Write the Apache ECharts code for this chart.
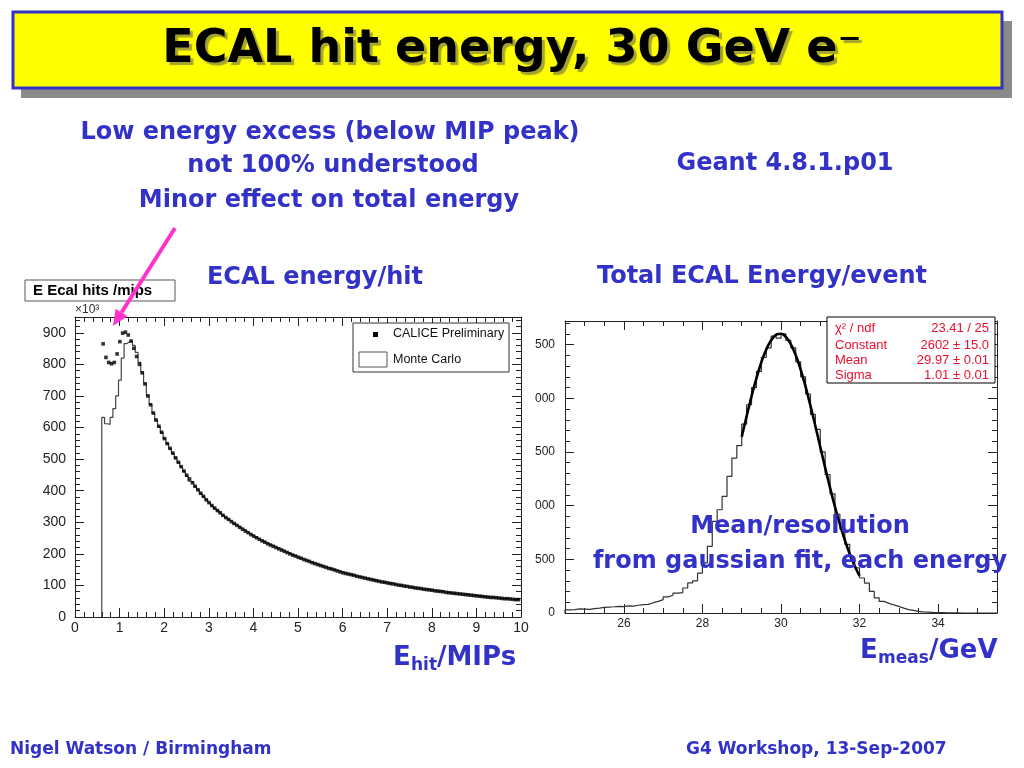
<!DOCTYPE html>
<html><head><meta charset="utf-8">
<script src="https://cdn.jsdelivr.net/npm/echarts@6/dist/echarts.min.js"></script>
<style>html,body{margin:0;padding:0;background:#fff}#c{width:1024px;height:768px}</style>
</head><body><div id="c"></div>
<script>
// ---------- data: left histogram (E Ecal hits / mips) ----------
const LEFT_BIN_START = 0.6;
const LEFT_BIN_WIDTH = 0.0625;
const LEFT_DATA = [865,822,806,802,806,833,872,899,902,893,
874,851,825,800,773,738,700,672,646,624,
604,585,565,549,534,519,504,490,476,462,
449,437,425,414,403,392,382,371,362,353,
345,337,330,322,315,309,302,296,290,284,
278,272,267,261,256,251,246,241,237,232,
228,224,220,216,212,208,204,200,196,193,
189,186,182,179,176,172,169,166,163,160,
157,154,152,149,146,143,140,138,136,134,
132,129,127,125,123,121,119,117,115,113,
111,110,108,106,105,103,101,100,98,97,
95,94,92,91,90,88,87,86,85,83,
82,81,80,78,77,76,75,74,73,72,
71,70,69,68,67,66,65,64,63,62,
62,61,60,59,58,58,57,56,55,55];
const LEFT_MC = [632,612,610,632,660,700,750,820,866,872,
873,860,838,806,776,741,703,673,645,622,
603,584,564,549,533,518,503,489,475,461,
446,430,428,413,402,391,381,371,361,352,
344,337,329,322,315,308,302,295,289,283,
278,272,266,261,256,251,246,241,236,232,
228,224,219,216,212,208,204,200,196,193,
189,186,182,179,175,172,169,166,163,160,
157,154,151,149,146,143,141,138,136,134,
131,129,127,125,123,121,119,117,115,113,
111,109,108,106,104,103,101,100,98,97,
95,94,92,91,89,88,87,86,84,83,
82,81,80,78,77,76,75,74,73,72,
71,70,69,68,67,66,65,64,63,62,
62,61,60,59,58,58,57,56,55,55];
const LEFT_X_STEP = 1;     // tick label step, 0 ... 10
const LEFT_Y_STEP = 100;   // tick label step, 0 ... 900

// ---------- data: right histogram (Total ECAL energy / event) ----------
const RIGHT_BIN_START = 24.5;
const RIGHT_BIN_WIDTH = 0.125;
const RIGHT_HIST = [30,32,38,36,33,40,45,52,55,58,
62,60,66,64,72,78,80,96,108,125,
150,165,186,190,233,280,300,372,466,621,
853,962,1086,1272,1443,1560,1760,1940,2100,2250,
2380,2470,2580,2560,2600,2540,2470,2340,2200,2040,
1850,1710,1500,1290,1110,920,780,640,520,420,
326,279,201,140,108,90,75,62,45,31,
25,15,10,8,5,4,3,2,1,1,
0,0,0,0,0,0,0,0];
const FIT_X = [29.0,29.1,29.2,29.3,29.4,29.5,29.6,29.7,29.8,29.9,30.0,30.1,30.2,30.3,30.4,30.5,30.6,30.7,30.8,30.9,31.0,31.1,31.2,31.3,31.4,31.5,31.6,31.7,31.8,31.9,32.0];
const FIT_Y = [1641,1796,1946,2089,2219,2336,2433,2511,2565,2596,2601,2580,2535,2466,2377,2267,2143,2004,1856,1703,1547,1391,1239,1093,955,826,708,600,504,419,345];
const RIGHT_X_TICKS = [26,28,30,32,34];
const RIGHT_Y_STEP = 500;  // tick label step, 0 ... 2500

// ---------- styles ----------
const AX = '#222';
const LF = 'Liberation Sans';
const BLUE = '#3232c8';
const TF = '"DejaVu Sans"';
const RED = '#e8102e';

function mainAxis(gridIndex, pos, min, max, interval, labels, fs, margin, minorSplit, showMax) {
  return {
    type:'value', gridIndex:gridIndex, position:pos, min:min, max:max, interval:interval,
    splitLine:{show:false}, axisPointer:{show:false},
    axisLine:{show:true, onZero:false, lineStyle:{color:AX, width:1}},
    axisTick:{show:true, inside:true, length:9, lineStyle:{color:AX, width:1}},
    minorTick:{show:true, splitNumber:minorSplit, length:5, lineStyle:{color:AX, width:1}},
    axisLabel:{show:labels, showMaxLabel:showMax, color:AX, fontSize:fs, fontFamily:LF, margin:margin}
  };
}
function customAxis(gridIndex, pos, min, max, vals, labels, fs, margin) {
  return {
    type:'value', gridIndex:gridIndex, position:pos, min:min, max:max,
    splitLine:{show:false}, axisPointer:{show:false},
    axisLine:{show:true, onZero:false, lineStyle:{color:AX, width:1}},
    axisTick:{show:true, inside:true, length:9, customValues:vals, lineStyle:{color:AX, width:1}},
    axisLabel:{show:labels, customValues:vals, color:AX, fontSize:fs, fontFamily:LF, margin:margin}
  };
}
function minorAxis(gridIndex, pos, min, max, interval) {
  return {
    type:'value', gridIndex:gridIndex, position:pos, min:min, max:max, interval:interval,
    splitLine:{show:false}, axisPointer:{show:false},
    axisLine:{show:false, onZero:false},
    axisTick:{show:true, inside:true, length:5, lineStyle:{color:AX, width:1}},
    axisLabel:{show:false}
  };
}

const xAxes = [
  mainAxis(0, 'bottom', 0, 10, LEFT_X_STEP, true, 14, 4, 5, true),     // 0
  mainAxis(0, 'top', 0, 10, LEFT_X_STEP, false, 14, 4, 5, true),       // 1
  customAxis(1, 'bottom', 24.5, 35.5, RIGHT_X_TICKS, true, 12, 5),     // 2
  customAxis(1, 'top', 24.5, 35.5, RIGHT_X_TICKS, false, 12, 5),       // 3
  minorAxis(2, 'bottom', 24.5, 35.5, 0.5),                             // 4
  minorAxis(2, 'top', 24.5, 35.5, 0.5)                                 // 5
];
const yAxes = [
  mainAxis(0, 'left', 0, 950, LEFT_Y_STEP, true, 14, 9, 5, false),     // 0
  mainAxis(0, 'right', 0, 950, LEFT_Y_STEP, false, 14, 9, 5, false),   // 1
  mainAxis(1, 'left', 0, 2720, RIGHT_Y_STEP, true, 12, 10, 5, false),  // 2
  mainAxis(1, 'right', 0, 2720, RIGHT_Y_STEP, false, 12, 10, 5, false),// 3
  {type:'value', gridIndex:2, show:false, min:0, max:2720}             // 4
];

function stepData(start, w, vals) {
  const pts = [[start, 0]];
  vals.forEach(function (v, i) { pts.push([start + i * w, v]); });
  pts.push([start + vals.length * w, vals[vals.length - 1]]);
  return pts;
}
function centers(start, w, vals) {
  return vals.map(function (v, i) { return [start + (i + 0.5) * w, v]; });
}
function txt(t, x, y, font, fill, align, extra) {
  return {type:'text', x:x, y:y, z:50, style:Object.assign({text:t, font:font, fill:fill, textAlign:align || 'center', textVerticalAlign:'middle'}, extra || {})};
}

const graphic = [
  // title banner
  {type:'rect', z:1, shape:{x:21, y:21, width:991, height:77}, style:{fill:'#8a8a8a'}},
  {type:'rect', z:2, shape:{x:13, y:12, width:989, height:76}, style:{fill:'#ffff00', stroke:'#3333cc', lineWidth:3}},
  txt('ECAL hit energy, 30 GeV e⁻', 512, 50, 'bold 46px ' + TF, '#000', 'center', {textShadowColor:'rgba(90,90,90,0.55)', textShadowOffsetX:3, textShadowOffsetY:3, textShadowBlur:1}),
  // annotations
  txt('Low energy excess (below MIP peak)', 330, 133, 'bold 24px ' + TF, BLUE),
  txt('not 100% understood', 333, 166, 'bold 24px ' + TF, BLUE),
  txt('Minor effect on total energy', 329, 201, 'bold 24px ' + TF, BLUE),
  txt('Geant 4.8.1.p01', 785, 164, 'bold 24px ' + TF, BLUE),
  txt('ECAL energy/hit', 315, 278, 'bold 24px ' + TF, BLUE),
  txt('Total ECAL Energy/event', 762, 277, 'bold 24px ' + TF, BLUE),
  txt('Mean/resolution', 800, 527, 'bold 24px ' + TF, BLUE),
  txt('from gaussian fit, each energy', 800, 562, 'bold 24px ' + TF, BLUE),
  // axis titles
  txt('E', 393, 658, 'bold 26px ' + TF, BLUE, 'left'),
  txt('hit', 411, 666, 'bold 17px ' + TF, BLUE, 'left'),
  txt('/MIPs', 437, 658, 'bold 26px ' + TF, BLUE, 'left'),
  txt('E', 860, 651, 'bold 26px ' + TF, BLUE, 'left'),
  txt('meas', 878, 659, 'bold 17px ' + TF, BLUE, 'left'),
  txt('/GeV', 929, 651, 'bold 26px ' + TF, BLUE, 'left'),
  // footer
  txt('Nigel Watson / Birmingham', 10, 750, 'bold 17px ' + TF, BLUE, 'left'),
  txt('G4 Workshop, 13-Sep-2007', 686, 750, 'bold 17px ' + TF, BLUE, 'left'),
  // left histogram title box
  {type:'rect', z:40, shape:{x:25, y:280, width:150, height:21}, style:{fill:'#fff', stroke:'#555', lineWidth:1}},
  txt('E Ecal hits /mips', 33, 291, 'bold 15px "Liberation Sans"', '#000', 'left'),
  txt('×10³', 75, 310, '12px "Liberation Sans"', '#333', 'left'),
  // left legend
  {type:'rect', z:40, shape:{x:353, y:323, width:156, height:49}, style:{fill:'#fff', stroke:'#333', lineWidth:1}},
  {type:'rect', z:45, shape:{x:373, y:332, width:5, height:5}, style:{fill:'#000'}},
  txt('CALICE Preliminary', 393, 334, '12.5px "Liberation Sans"', '#111', 'left'),
  {type:'rect', z:45, shape:{x:359, y:352, width:28, height:15}, style:{fill:'none', stroke:'#555', lineWidth:1}},
  txt('Monte Carlo', 393, 360, '12.5px "Liberation Sans"', '#111', 'left'),
  // pink arrow
  {type:'line', z:60, shape:{x1:175, y1:228, x2:121.5, y2:312.5}, style:{stroke:'#ff33cc', lineWidth:4}},
  {type:'polygon', z:60, shape:{points:[[113,326],[127.4,316.2],[115.6,308.8]]}, style:{fill:'#ff33cc'}},
  // crop of the right plot's y labels (as in the original picture)
  {type:'rect', z:55, shape:{x:522, y:318, width:13, height:285}, style:{fill:'#fff'}},
  // stats box
  {type:'rect', z:40, shape:{x:827, y:317, width:168, height:66}, style:{fill:'#fff', stroke:'#000', lineWidth:1}},
  txt('χ² / ndf', 835, 328, '13px "Liberation Sans"', RED, 'left'),
  txt('23.41 / 25', 989, 328, '13px "Liberation Sans"', RED, 'right'),
  txt('Constant', 835, 345, '13px "Liberation Sans"', RED, 'left'),
  txt('2602 ± 15.0', 989, 345, '13px "Liberation Sans"', RED, 'right'),
  txt('Mean', 835, 360, '13px "Liberation Sans"', RED, 'left'),
  txt('29.97 ± 0.01', 989, 360, '13px "Liberation Sans"', RED, 'right'),
  txt('Sigma', 835, 375, '13px "Liberation Sans"', RED, 'left'),
  txt('1.01 ± 0.01', 989, 375, '13px "Liberation Sans"', RED, 'right')
];

const option = {
  animation: false,
  backgroundColor: '#fff',
  grid: [
    {left:75, right:503, top:317, bottom:151, containLabel:false},
    {left:565, right:27, top:321, bottom:155, containLabel:false},
    {left:565, right:27, top:321, bottom:155, containLabel:false}
  ],
  xAxis: xAxes,
  yAxis: yAxes,
  series: [
    {name:'Monte Carlo', type:'line', xAxisIndex:0, yAxisIndex:0, step:'end', symbol:'none',
     lineStyle:{color:'#444', width:1.2}, data:stepData(LEFT_BIN_START, LEFT_BIN_WIDTH, LEFT_MC), z:3},
    {name:'CALICE Preliminary', type:'scatter', xAxisIndex:0, yAxisIndex:0, symbol:'rect', symbolSize:3.6,
     itemStyle:{color:'#000'}, data:centers(LEFT_BIN_START, LEFT_BIN_WIDTH, LEFT_DATA), z:4},
    {name:'Energy', type:'line', xAxisIndex:2, yAxisIndex:2, step:'end', symbol:'none',
     lineStyle:{color:'#333', width:1.2}, data:stepData(RIGHT_BIN_START, RIGHT_BIN_WIDTH, RIGHT_HIST), z:3},
    {name:'Fit', type:'line', xAxisIndex:2, yAxisIndex:2, smooth:true, symbol:'none',
     lineStyle:{color:'#000', width:2.6}, data:FIT_X.map(function (x, i) { return [x, FIT_Y[i]]; }), z:4}
  ],
  graphic: graphic
};
const chart = echarts.init(document.getElementById('c'), null, {renderer:'canvas', width:1024, height:768});
chart.setOption(option);
</script>
</body></html>
